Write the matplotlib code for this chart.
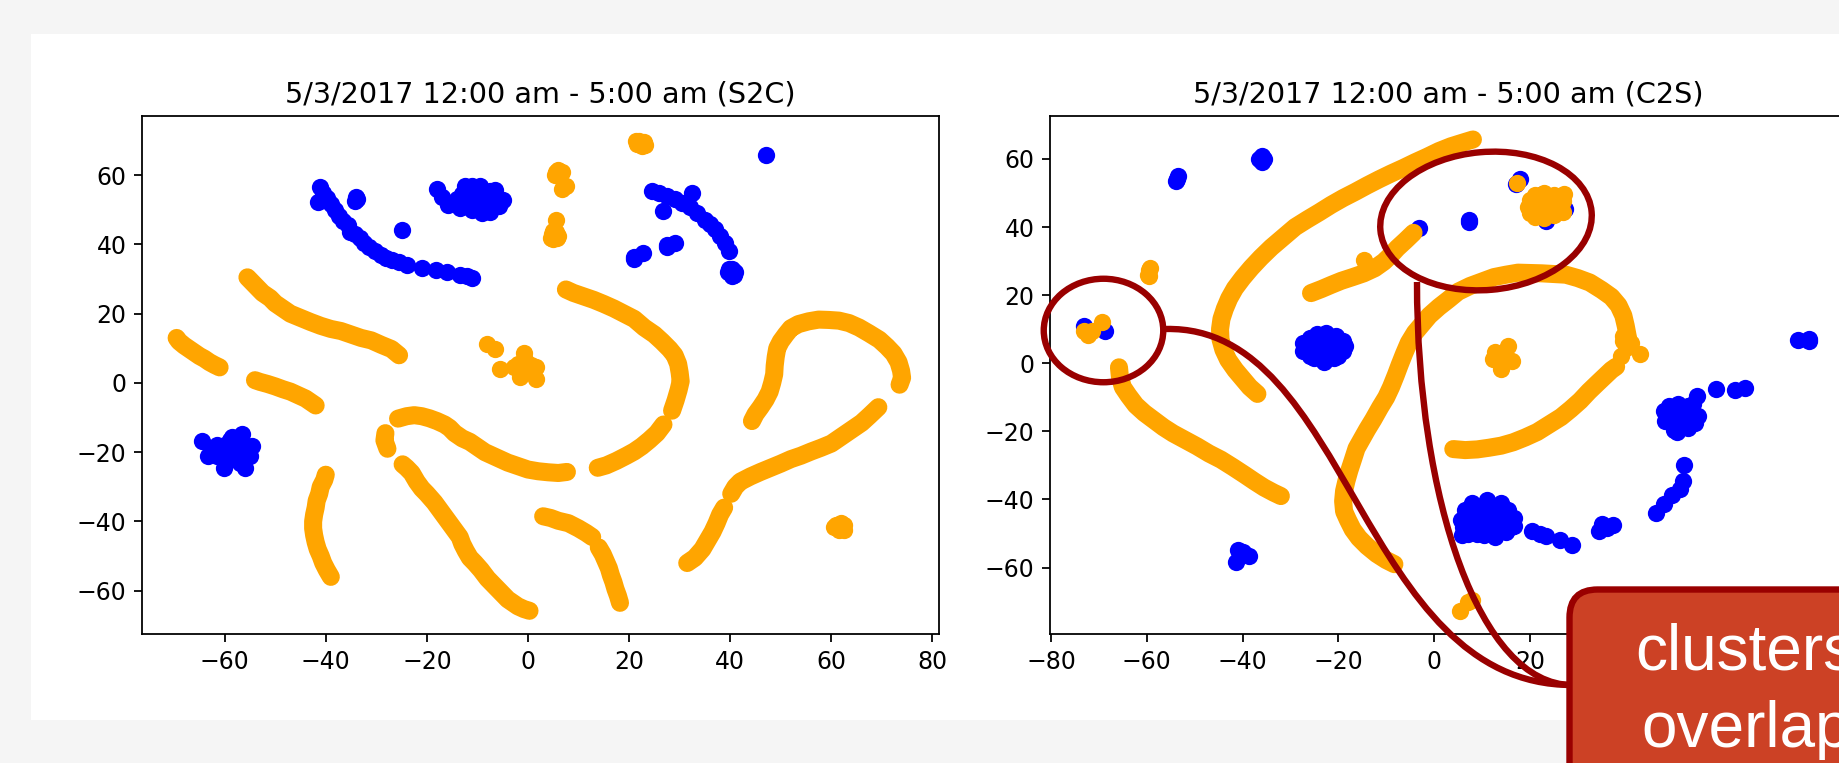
#!/usr/bin/env python3
import numpy as np
import matplotlib as mpl
mpl.use('Agg')
from matplotlib import pyplot as plt
from matplotlib.patches import Ellipse, FancyBboxPatch, PathPatch, Rectangle
from matplotlib.path import Path

## -- S2C panel, points -- ##
s2c_blue = [
    # long chain
    (-41.2,56.5),(-41.5,52.3),(-40.5,55),(-39.8,53.5),(-39,51.6),(-38.2,50),(-37.4,48.3),(-36.6,46.8),
    (-35.7,45.5),(-35.2,43.7),(-34.2,43),(-33.3,41.8),(-32.5,40.5),(-31.5,39.2),(-30.3,38),(-29,37),(-28,36.2),
    (-26.9,35.5),(-25.5,34.8),(-24,34),(-21,33.2),(-18.2,32.5),(-16,32),(-13.5,31.2),(-12,30.8),(-11,30.3),
    # singles
    (-34,53.8),(-34.2,52.6),(-33.8,53.2),(-25,44.3),(32.4,54.8),(26.7,49.7),(47,65.9),
    (20.9,36.5),(21,35.8),(22.7,37.5),(27.5,39.9),(27.5,39.2),(29,40.3),
    (39.6,32),(41,32),(40.3,33),(40.3,31),(39.8,32.8),(40.8,31.2),
    # top cluster
    (-18,56),(-17,53.8),(-15.8,51.5),(-13.5,50.5),(-12.5,57),(-9.5,57),(-6.6,55.8),(-4.9,52.7),
    (-5.8,51),(-9,49),(-7.5,49.5),(-11,50),(-14,53),(-12,55),(-10,53),(-8,53),(-12,52),(-9,55),(-7,53),(-11,57),
    (-13,54.5),(-10.5,51),(-8.5,51),(-6.5,53),(-7.5,55.5),(-10.5,55),
    # right chain
    (24.6,55.5),(26,54.8),(27.5,54),(29,53),(30.5,52),(32,50.8),(33.5,49),(35,47),(36,45.8),(37,44.5),
    (38,42.5),(39,40.5),(39.7,38),
    # lower left cluster
    (-64.4,-16.7),(-63.3,-21.2),(-60.2,-24.6),(-56,-24.7),(-56.6,-14.7),(-54.5,-18.3),(-55,-21),
    (-61.5,-18),(-59,-16.6),(-60,-20),(-58,-19),(-57,-17.5),(-58,-22),(-56.5,-20),(-61.5,-21),
    (-59.5,-22.5),(-57,-23),(-55.8,-19.5),(-58.5,-15.5),(-62,-19.5),(-60,-18),
]
s2c_orange_a = [(-55.5,30.5),(-54.5,29),(-53.5,27.5),(-52.5,26),(-51,24.5),(-50,23),(-48.5,21.5),(-47,20),(-45,18.8),
                (-43,17.6),(-41,16.5),(-39,15.6),(-37,15),(-35,14),(-33,13),(-31,12.3),(-29,11),(-27,9.8),(-25.5,8)]
s2c_orange_b = [(-69.5,13),(-69,12),(-68,10.8),(-67,9.8),(-66,8.8),(-65,7.8),(-64,7),(-63,6),(-62,5.2),(-61,4.5)]
s2c_orange_c = [(-54,0.8),(-53,0.3),(-51.5,-0.3),(-50,-1),(-48.5,-1.8),(-47,-2.5),(-45.5,-3.5),(-44,-4.5),(-43,-5.5),(-42,-6.5)]
s2c_orange_d = [(-40,-26.5),(-40.3,-28),(-41,-30),(-41.3,-32),(-41.8,-34),(-42,-36),(-42.3,-38),(-42.5,-40),(-42.5,-42),
                (-42.3,-44),(-42,-46),(-41.6,-48),(-41,-50),(-40.5,-52),(-39.8,-54),(-39,-56)]
s2c_orange_e = [(-28.2,-14.5),(-28.4,-16.6),(-27.8,-19)]
s2c_orange_f = [(-25.7,-10.3),(-24,-9.6),(-22.5,-9.3),(-21,-9.6),(-19.5,-10.2),(-18,-11),(-16.5,-12),(-15.5,-13),(-14.5,-14.5),
                (-13,-16),(-11.5,-17),(-10,-18.5),(-8.5,-20),(-7,-21),(-5.5,-22),(-4,-23),(-2,-24),(0,-25),(2,-25.5),
                (4,-25.8),(6,-26),(7.7,-25.7)]
s2c_orange_g = [(-24.8,-23.5),(-24,-24.5),(-23,-26),(-22,-28.5),(-21,-30.5),(-20,-32),(-18.5,-34.5),(-17.5,-36.5),(-16.5,-38.5),
                (-15.5,-40.5),(-14.5,-42.5),(-13.5,-44.5),(-13,-46.5),(-12.3,-48.5),(-11.5,-50.5),(-10.5,-52),(-9.3,-54),
                (-8,-56.5),(-7,-58),(-6,-59.5),(-5,-61),(-4,-62.5),(-3,-63.5),(-2,-64.5),(-0.8,-65.3),(0.3,-65.8)]
s2c_orange_h = [(3,-38.5),(4.5,-39),(6,-39.8),(8,-40.5),(10,-42),(11.5,-43.3),(12.7,-44.5)]
s2c_orange_i = [(14,-47.5),(14.8,-49.5),(15.4,-51.5),(16,-53.5),(16.4,-55.5),(16.9,-57.5),(17.3,-59.5),(17.8,-61.5),(18.2,-63.5)]
s2c_orange_j = [(7.5,27),(9,26),(11,25),(13,24),(15,22.8),(17,21.5),(19,20),(21,18.5),(23,16),(25,14),(26.5,12),(28,9.8),
                (29,8),(29.7,5.5),(30,3),(30.2,0.5),(29.8,-2),(29.2,-5),(28.5,-8)]
s2c_orange_k = [(13.8,-24.5),(15.5,-23.8),(17.5,-22.5),(19.5,-21),(21,-19.8),(22.5,-18.3),(24,-16.5),(25.5,-14.5),(26.8,-12)]
s2c_orange_l = [(44.3,-11),(45,-9),(46,-7),(47,-4.8),(47.8,-2.5),(48.3,0),(48.7,2.5),(48.8,5),(49,7.5),(49.3,10),(50,12),(51,14),
                (52,15.8),(53.5,17),(55.5,17.8),(57.5,18.3),(59.5,18.2),(61.5,18),(63.5,17.3),(65.5,16),(67.5,14.3),(69.5,12.5),
                (71,10.5),(72.3,8.5),(73.3,6),(73.8,3.5),(74,1.5),(73.5,-0.5)]
s2c_orange_m = [(31.5,-52),(33,-50.5),(34.5,-48),(35.5,-45.5),(36.5,-43),(37.3,-40.5),(38,-38),(38.8,-36)]
s2c_orange_n = [(40.2,-32),(41,-30),(42,-28.5),(44,-27),(46,-25.7),(48,-24.5),(50,-23.3),(52,-22),(54,-21),(56,-19.8),(58,-18.7),
                (60,-17.5),(62,-15.5),(64,-13.5),(66,-11.5),(67.5,-9.5),(69.3,-7)]
s2c_orange_blobs = [(21.5,69),(22,70),(23,69.5),(22.5,68.5),(22.3,69.3),(21.3,69.8),(23.2,68.8),
                    (5.5,61),(6.3,60.5),(6,61.5),(5.3,60),(6.8,61),(6.8,56),(7.5,57),
                    (4.5,42),(5,41.5),(6,42.5),(5.5,43.5),(5.5,47),(5,44),(4.7,43),(5.8,41.8),
                    (60.5,-41.5),(61.5,-42.5),(62.5,-41),(62,-40.5),(62.5,-42.5),(61,-41),(61.5,-41.5),
                    (-8.2,11.2),(-6.6,9.8),(-5.5,4),(-0.7,8.7),(-2.7,4.5),(-1.5,1.7),(1.5,1.2),(1.5,4.5),
                    (-0.9,4.5),(-0.5,6.5),(-2,5.5),(-1,3),(0.3,3.3),(0.5,5.3)]

## -- C2S panel -- ##
c2s_blue = [
    (-53.7,54.2),(-53.9,53.4),(-53.5,55),(-36.5,60),(-35.5,60),(-36,60.8),(-36,59.2),
    (-73,11),(-68.8,9.4),(18,54.2),(17.1,52.5),(22.7,49.6),(23.3,41.7),(27.4,45.3),(7.2,42),(7.2,41.5),(-3.2,39.7),
    # cluster near (-23, 5)
    (-27.3,6),(-27.3,3.5),(-26,7.5),(-26,2),(-24.5,8.5),(-22.5,9),(-23,0.5),(-20.5,8),(-20,2),(-18.7,5),(-23,5),(-25,5),
    (-21,5),(-23,7),(-23,3),(-25,1.5),(-21,1.5),(-25,7),(-21,7),(-19,3.5),(-19,6.5),
    # big cluster
    (5.8,-50.5),(12.8,-51),(16.7,-47.9),(11,-40.3),(8,-41),(14,-41),(6.5,-43),(15.5,-43),(5.7,-46),(16.7,-45.5),(11,-45),(8,-47),(14,-47),
    (9,-50),(11,-42.5),(8,-43),(14,-43),(6,-48),(7,-50),(10.5,-50.5),(15,-49.5),(12,-48),(10,-47.5),(13,-45),(9,-45),(16,-48),
    # tail
    (20.4,-49.2),(22,-50),(23.3,-50.8),(26.3,-52),(28.8,-53.5),
    (34.5,-49.2),(35,-47.2),(37.4,-47.6),(36,-48.5),
    (46.4,-43.9),(47.9,-41.3),(49.7,-38.6),(51.4,-37),(52,-34.7),(52.2,-29.8),
    # cluster near (51, -15)
    (48,-14),(48.3,-17),(49,-12.5),(50,-19.5),(50.8,-20.2),(53,-19),(55,-15.5),(54,-12),(54.9,-9.7),(51,-15),(49.5,-15.5),
    (53,-15),(51,-12),(51,-18),(53,-12.5),(54.5,-17.5),(52,-17),(49.5,-17.5),
    (58.8,-7.7),(62.8,-8),(64.9,-7.3),(76,6.8),(78.3,6.5),(78.3,7),
    (-41.4,-58.4),(-41,-54.8),(-38.7,-56.7),(-40,-55.5),
]
c2s_orange_a = [(-36.9,-9),(-38.5,-7),(-40,-4.5),(-41.5,-2),(-43,1),(-44,4),(-44.6,7),(-44.7,10),(-44.4,13),(-43.7,16),(-42.8,19),
                (-41.6,22),(-40,25),(-38.2,28),(-36.2,31),(-34,34),(-31.5,37),(-29,40),(-26.5,42.2),(-24,44.3),(-21.5,46.5),
                (-19,48.5),(-16.5,50.3),(-14,52.2),(-11.5,54),(-9,55.7),(-6.5,57.3),(-4,59),(-1.5,60.6),(1,62.3),(3.5,63.7),(6,64.8),(8.1,65.7)]
c2s_orange_b = [(-65.8,-1.2),(-65.6,-4),(-65,-7),(-63.8,-9.5),(-62.3,-12.3),(-60.5,-14.6),(-58.5,-16.7),(-56.5,-18.8),(-54.5,-20.6),
                (-52,-22.5),(-49.5,-24.4),(-47,-26.5),(-44.5,-28.3),(-42,-30.5),(-39.5,-32.8),(-37.5,-34.7),(-35.5,-36.5),(-33.5,-38),(-32,-39)]
c2s_orange_c = [(-25.7,20.6),(-23.5,21.8),(-21.5,23),(-19.4,24.2),(-17,25.3),(-14.7,26.4),(-12.4,27.9),(-10.5,29.8),(-9,31.8),
                (-7.7,33.8),(-6,36),(-4.3,38.3)]
c2s_orange_d = [(-8.3,-59),(-10,-57.8),(-12,-56),(-14,-53.7),(-15.7,-51.3),(-17,-48.8),(-18,-46),(-18.8,-43.5),(-19,-40.5),(-18.8,-37.5),
                (-18.3,-34.5),(-17.7,-31.5),(-17,-28.5),(-16.2,-25),(-15,-22),(-14,-19.5),(-12.7,-16.5),(-11.3,-13),(-10,-10),(-9,-7),
                (-8,-3.5),(-7.2,-0.5),(-6.3,2.7),(-5.3,6),(-4,9),(-2.5,11.5),(-1,14),(1,16.5),(3,18.7),(5,21),(7.5,22.7),(10,24),
                (12.5,25.3),(15,26),(17.5,26.6),(20,26.5),(22.5,26.4),(25,26.2),(27.5,26),(30,25),(32.5,23.7),(35,21.5),(37,19.5),
                (38.5,17),(39.5,14),(40,11),(40.4,8)]
c2s_orange_e = [(4,-25.2),(6.5,-25.5),(9,-25.3),(11.5,-24.8),(14,-24.2),(16.5,-23.2),(19,-21.8),(21.5,-20.2),(24,-18),(26.5,-15.8),
                (28.5,-13.5),(30.5,-11),(32.3,-8.3),(34,-6),(35.5,-4),(37,-2),(38,-1)]
c2s_orange_blobs = [(39.5,6.5),(40.5,7.5),(41,6),(39.5,8),(39.1,2.2),(42.9,2.8),(40,4.5),
                    (14,1.5),(12.8,3.2),(15.5,5.2),(14,-1.8),(16.3,0.6),(12.2,1.2),(14.5,3),
                    (-59.5,27.5),(-59.7,26),(-59.3,28),(-59.5,25.5),(-14.7,30.3),
                    (5.5,-72.7),(7,-70),(8,-69.5),
                    (-72.3,9.2),(-69.3,12),(-73,9.4),(-71.5,9.6),(-72.3,8.3),
                    (17.2,53),(27.2,49.6),
                    (19.5,46),(20,48),(20,44),(21,49.5),(21,43),(23,50),(23,42.7),(25,49.5),(25,43.5),(27,47.5),(27,44.5),
                    (23,46),(21,46),(25,46),(22,48),(24,48),(22,44),(24,44),(26,46)]

s2c_curves = [s2c_orange_a, s2c_orange_b, s2c_orange_c, s2c_orange_d, s2c_orange_e, s2c_orange_f, s2c_orange_g,
              s2c_orange_h, s2c_orange_i, s2c_orange_j, s2c_orange_k, s2c_orange_l, s2c_orange_m, s2c_orange_n]
c2s_curves = [c2s_orange_a, c2s_orange_b, c2s_orange_c, c2s_orange_d, c2s_orange_e]

x_ticks_left = [-60, -40, -20, 0, 20, 40, 60, 80]
x_ticks_right = [-80, -60, -40, -20, 0, 20]
y_ticks_left = [-60, -40, -20, 0, 20, 40, 60]
y_ticks_right = [-60, -40, -20, 0, 20, 40, 60]

W, H = 1839, 763
k = 1.6
plt.rcParams.update({
    'font.family': 'DejaVu Sans',
    'axes.linewidth': 0.8 * k,
    'xtick.major.width': 0.8 * k, 'ytick.major.width': 0.8 * k,
    'xtick.major.size': 3.5 * k, 'ytick.major.size': 3.5 * k,
    'xtick.major.pad': 3.5 * k, 'ytick.major.pad': 3.5 * k,
    'xtick.labelsize': 17, 'ytick.labelsize': 17,
    'axes.titlesize': 20.6, 'axes.titlepad': 6 * k,
})


def px_axes(fig, x0, y0, x1, y1):
    """axes from pixel box, y counted from the top"""
    return fig.add_axes([x0 / W, 1 - y1 / H, (x1 - x0) / W, (y1 - y0) / H])


def panel(ax, blue, curves, blobs, title, xlim, ylim, xticks, yticks):
    dot = 155
    pts = np.array(blue)
    ax.scatter(pts[:, 0], pts[:, 1], s=dot, c='blue', linewidths=0)
    for seg in curves:
        pts = np.array(seg)
        ax.plot(pts[:, 0], pts[:, 1], color='orange', lw=13,
                solid_capstyle='round', solid_joinstyle='round')
    pts = np.array(blobs)
    ax.scatter(pts[:, 0], pts[:, 1], s=dot, c='orange', linewidths=0, zorder=3)
    ax.set_xlim(xlim)
    ax.set_ylim(ylim)
    ax.set_xticks(xticks)
    ax.set_yticks(yticks)
    ax.set_title(title)


fig = plt.figure(figsize=(W / 100, H / 100), dpi=100, facecolor='#f5f5f5')

bg = fig.add_axes([0, 0, 1, 1], zorder=0)
bg.set_xlim(0, W)
bg.set_ylim(H, 0)
bg.axis('off')
bg.add_patch(Rectangle((31, 34), W - 31, 720 - 34, fc='white', ec='none'))

ax1 = px_axes(fig, 142, 116, 939, 634)
ax1.set_zorder(1)
panel(ax1, s2c_blue, s2c_curves, s2c_orange_blobs, '5/3/2017 12:00 am - 5:00 am (S2C)',
      (-76.35, 81.3), (-72.5, 77.1), x_ticks_left, y_ticks_left)

ax2 = px_axes(fig, 1050, 116, 1847, 634)
ax2.set_zorder(1)
panel(ax2, c2s_blue, c2s_curves, c2s_orange_blobs, '5/3/2017 12:00 am - 5:00 am (C2S)',
      (-80.2, 86.2), (-79.5, 72.6), x_ticks_right, y_ticks_right)

## -- callout drawn on top, in pixels -- ##
over = fig.add_axes([0, 0, 1, 1], zorder=5)
over.patch.set_alpha(0)
over.set_xlim(0, W)
over.set_ylim(H, 0)
over.axis('off')

red = '#990000'
lw = 4.6
over.add_patch(Ellipse((1103.5, 330.5), 119.5, 103.5, fc='none', ec=red, lw=lw))
over.add_patch(Ellipse((1486, 221), 212, 138, angle=-5, fc='none', ec=red, lw=lw))

codes = [Path.MOVETO, Path.CURVE4, Path.CURVE4, Path.CURVE4]
over.add_patch(PathPatch(Path([(1166, 329), (1350, 325), (1360, 685), (1572, 685)], codes),
                         fc='none', ec=red, lw=lw))
over.add_patch(PathPatch(Path([(1417, 282), (1417, 500), (1480, 685), (1572, 685)], codes),
                         fc='none', ec=red, lw=lw))

over.add_patch(FancyBboxPatch((1569.5, 589.5), 400, 300, boxstyle='round,pad=0,rounding_size=28',
                              fc='#cc4125', ec=red, lw=lw, zorder=3))
over.text(1635.5, 670, 'clusters', color='white', family='Liberation Sans', fontsize=46,
          ha='left', va='baseline', zorder=4)
over.text(1641, 747, 'overlap', color='white', family='Liberation Sans', fontsize=46,
          ha='left', va='baseline', zorder=4)

fig.savefig('out.png', dpi=100, facecolor=fig.get_facecolor())
